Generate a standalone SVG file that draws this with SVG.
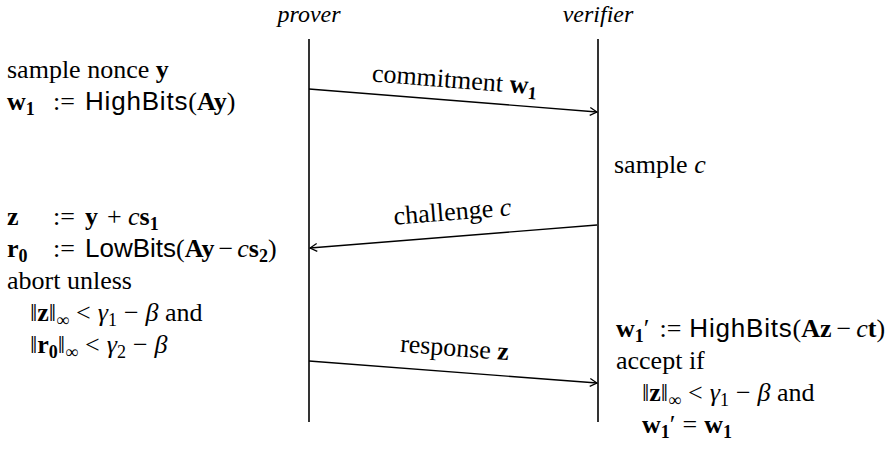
<svg xmlns="http://www.w3.org/2000/svg" width="896" height="459" viewBox="0 0 896 459">
<style>
text{font-family:"Liberation Serif","Times New Roman","DejaVu Serif",serif;font-size:26px;fill:#000}
.b{font-weight:bold}
.i{font-style:italic}
.s{font-family:"Liberation Sans",sans-serif;font-size:26px;letter-spacing:0.8px}
.sub{font-size:18px}
.hd{font-size:24px;font-style:italic}
.life{stroke:#000;stroke-width:1.6;fill:none}
.msg{stroke:#000;stroke-width:1.4;fill:none}
</style>
<defs>
<marker id="ah" viewBox="0 0 10 10" refX="9" refY="5" markerWidth="10" markerHeight="10" markerUnits="userSpaceOnUse" orient="auto">
<path d="M2,1 L9,5 L2,9" fill="none" stroke="#000" stroke-width="1.3"/>
</marker>
</defs>
<rect width="896" height="459" fill="#fff"/>

<g id="prover">
<text class="hd" x="309" y="22" text-anchor="middle">prover</text>
<line class="life" x1="309" y1="39" x2="309" y2="422"/>
</g>
<g id="verifier">
<text class="hd" x="598" y="22" text-anchor="middle">verifier</text>
<line class="life" x1="598" y1="39" x2="598" y2="422"/>
</g>

<g id="prover-step1">
<text x="7" y="78">sample nonce <tspan class="b">y</tspan></text>
<text x="7" y="110"><tspan class="b">w</tspan><tspan class="b sub" dy="5">1</tspan><tspan x="53" dy="-5">:=</tspan><tspan class="s" x="85">HighBits</tspan>(<tspan class="b">Ay</tspan>)</text>
</g>

<g id="verifier-step1">
<text x="614" y="173">sample <tspan class="i">c</tspan></text>
</g>

<g id="prover-step2">
<text x="7" y="225"><tspan class="b">z</tspan><tspan x="53">:=</tspan><tspan class="b" x="85">y</tspan><tspan x="107">+</tspan><tspan class="i" x="128">c</tspan><tspan class="b">s</tspan><tspan class="b sub" dy="5">1</tspan></text>
<text x="7" y="257"><tspan class="b">r</tspan><tspan class="b sub" dy="5">0</tspan><tspan x="53" dy="-5">:=</tspan><tspan class="s" x="85" style="letter-spacing:0">LowBits</tspan>(<tspan class="b">Ay</tspan><tspan dx="4">−</tspan><tspan class="i" dx="4">c</tspan><tspan class="b">s</tspan><tspan class="b sub" dy="5">2</tspan><tspan dy="-5">)</tspan></text>
<text x="7" y="289">abort unless</text>
<text x="30" y="321">‖<tspan class="b">z</tspan>‖<tspan class="sub" dy="5">∞</tspan><tspan dy="-5" dx="7">&lt;</tspan><tspan class="i" dx="7">γ</tspan><tspan class="sub" dy="5">1</tspan><tspan dy="-5" dx="7">−</tspan><tspan class="i" dx="7">β</tspan> and</text>
<text x="30" y="353">‖<tspan class="b">r</tspan><tspan class="b sub" dy="5">0</tspan><tspan dy="-5">‖</tspan><tspan class="sub" dy="5">∞</tspan><tspan dy="-5" dx="7">&lt;</tspan><tspan class="i" dx="7">γ</tspan><tspan class="sub" dy="5">2</tspan><tspan dy="-5" dx="7">−</tspan><tspan class="i" dx="7">β</tspan></text>
</g>

<g id="verifier-step2">
<text x="616" y="337"><tspan class="b">w</tspan><tspan class="b sub" dy="5">1</tspan><tspan dy="-5">′</tspan><tspan dx="10">:=</tspan><tspan class="s" dx="8">HighBits</tspan>(<tspan class="b">Az</tspan><tspan dx="5">−</tspan><tspan class="i" dx="5">c</tspan><tspan class="b">t</tspan>)</text>
<text x="616" y="369">accept if</text>
<text x="642" y="401">‖<tspan class="b">z</tspan>‖<tspan class="sub" dy="5">∞</tspan><tspan dy="-5" dx="7">&lt;</tspan><tspan class="i" dx="7">γ</tspan><tspan class="sub" dy="5">1</tspan><tspan dy="-5" dx="7">−</tspan><tspan class="i" dx="7">β</tspan> and</text>
<text x="642" y="433"><tspan class="b">w</tspan><tspan class="b sub" dy="5">1</tspan><tspan dy="-5">′</tspan><tspan dx="7">=</tspan><tspan class="b" dx="7">w</tspan><tspan class="b sub" dy="5">1</tspan></text>
</g>

<g id="connectors">
<line class="msg" x1="309" y1="89" x2="597" y2="112" marker-end="url(#ah)"/>
<text transform="translate(454,88) rotate(4.55)" text-anchor="middle">commitment <tspan class="b">w</tspan><tspan class="b sub" dy="5">1</tspan></text>
<line class="msg" x1="597" y1="225" x2="310" y2="248" marker-end="url(#ah)"/>
<text transform="translate(453,220) rotate(-4.55)" text-anchor="middle">challenge <tspan class="i">c</tspan></text>
<line class="msg" x1="309" y1="361" x2="597" y2="383" marker-end="url(#ah)"/>
<text transform="translate(454,356) rotate(4.4)" text-anchor="middle">response <tspan class="b">z</tspan></text>
</g>
</svg>
